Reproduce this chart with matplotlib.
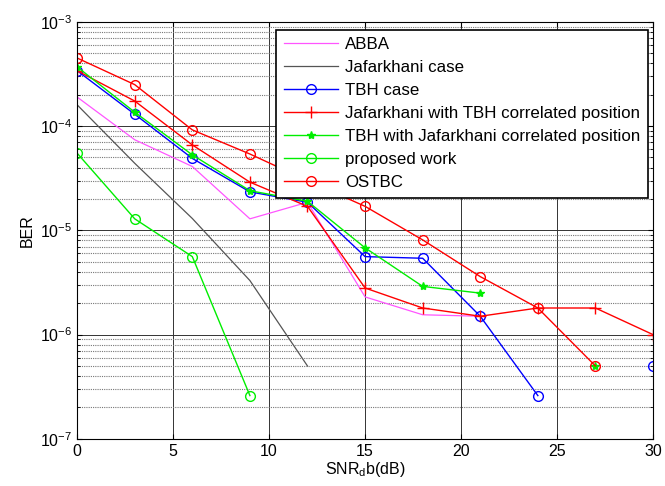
import numpy as np
import matplotlib
matplotlib.use('Agg')
import matplotlib.pyplot as plt
from matplotlib.ticker import LogLocator, NullFormatter

plt.rcParams['font.family'] = ['Liberation Sans', 'DejaVu Sans']
plt.rcParams['mathtext.fontset'] = 'custom'
plt.rcParams['mathtext.rm'] = 'Liberation Sans'

nan = np.nan
snr = [0, 3, 6, 9, 12, 15, 18, 21, 24, 27, 30]

abba = [1.9e-4, 7.4e-5, 4.1e-5, 1.29e-5, 1.86e-5, 2.3e-6, 1.55e-6, 1.5e-6]
jafarkhani = [1.6e-4, 4.4e-5, 1.3e-5, 3.3e-6, 5e-7]
tbh = [3.4e-4, 1.3e-4, 4.9e-5, 2.34e-5, 1.86e-5, 5.6e-6, 5.4e-6, 1.5e-6, 2.6e-7, nan, 5e-7]
jaf_tbh = [3.4e-4, 1.74e-4, 6.6e-5, 2.9e-5, 1.7e-5, 2.8e-6, 1.8e-6, 1.5e-6, 1.8e-6, 1.8e-6, 1e-6]
tbh_jaf = [3.7e-4, 1.36e-4, 5.3e-5, 2.4e-5, 1.9e-5, 6.8e-6, 2.9e-6, 2.5e-6, nan, 5e-7]
proposed = [5.5e-5, 1.29e-5, 5.6e-6, 2.6e-7]
ostbc = [4.5e-4, 2.5e-4, 9.2e-5, 5.4e-5, 3.0e-5, 1.7e-5, 8.1e-6, 3.6e-6, 1.8e-6, 5e-7]

fig = plt.figure(figsize=(6.65, 4.86), dpi=100)
ax = fig.add_axes([0.116, 0.097, 0.866, 0.858])

ms = 7
ax.semilogy(snr[:len(abba)], abba, color='#ff55ff', lw=0.9, label='ABBA')
ax.semilogy(snr[:len(jafarkhani)], jafarkhani, color='#555555', lw=0.9,
            label='Jafarkhani case')
ax.semilogy(snr[:len(tbh)], tbh, color='blue', lw=1.0, marker='o', ms=ms,
            mfc='none', label='TBH case')
ax.semilogy(snr[:len(jaf_tbh)], jaf_tbh, color='red', lw=1.0, marker='+',
            ms=9, label='Jafarkhani with TBH correlated position')
ax.semilogy(snr[:len(tbh_jaf)], tbh_jaf, color='#00ee00', lw=1.0, marker='*',
            ms=6, label='TBH with Jafarkhani correlated position')
ax.semilogy(snr[:len(proposed)], proposed, color='#00ee00', lw=1.0, marker='o',
            ms=ms, mfc='none', label='proposed work')
ax.semilogy(snr[:len(ostbc)], ostbc, color='red', lw=1.0, marker='o', ms=ms,
            mfc='none', label='OSTBC')

ax.set_xlim(0, 30)
ax.set_ylim(1e-7, 1e-3)
ax.set_xticks([0, 5, 10, 15, 20, 25, 30])
ax.yaxis.set_major_locator(LogLocator(base=10, numticks=10))
ax.yaxis.set_minor_locator(LogLocator(base=10, subs=np.arange(2, 10), numticks=10))
ax.yaxis.set_minor_formatter(NullFormatter())
ax.tick_params(which='both', direction='in', top=True, right=True, labelsize=11.5)
ax.grid(True, which='major', color='#333333', lw=0.7)
ax.grid(True, which='minor', axis='y', color='#777777', lw=0.8, ls=(0, (1, 1)))

ax.set_xlabel(r'SNR$_\mathregular{d}$b(dB)', fontsize=11.5, labelpad=1)
ax.set_ylabel('BER', fontsize=11.5, labelpad=4)

leg = ax.legend(loc='upper right', bbox_to_anchor=(0.991, 0.981),
                borderaxespad=0, fontsize=12.2, fancybox=False, framealpha=1,
                edgecolor='black', handlelength=3.2, handletextpad=0.4,
                labelspacing=0.47, borderpad=0.45)
leg.get_frame().set_linewidth(1.2)

fig.savefig('out.png', dpi=100)
